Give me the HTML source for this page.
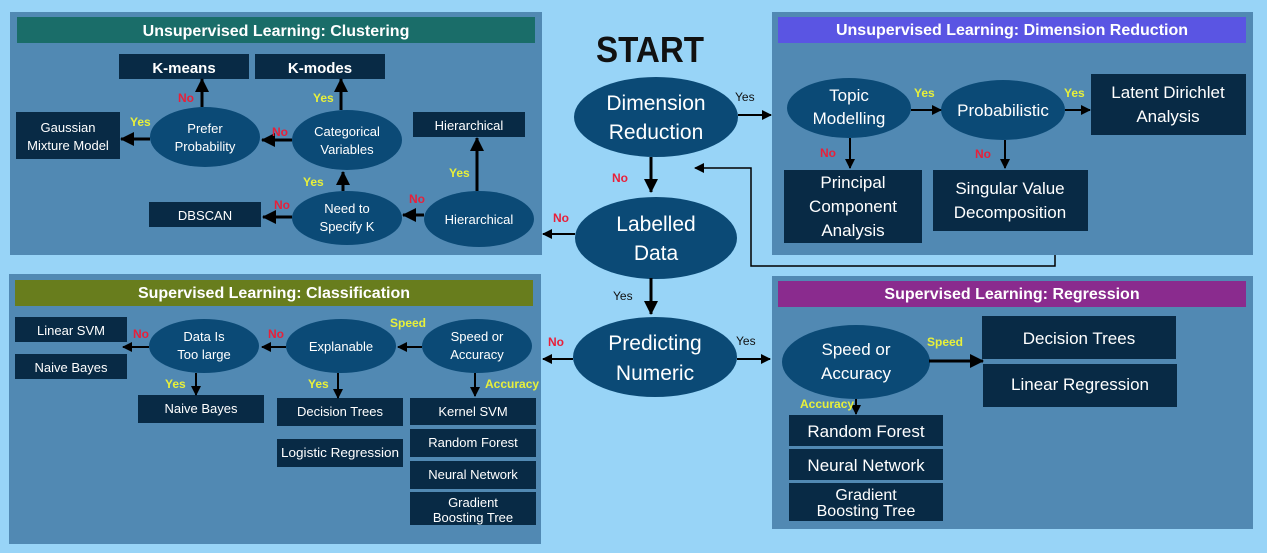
<!DOCTYPE html>
<html><head><meta charset="utf-8"><style>
html,body{margin:0;padding:0;background:#98d4f7;}
svg{display:block;}
text{font-family:"Liberation Sans",sans-serif;}
.w{fill:#fff;text-anchor:middle;}
.h{fill:#fff;text-anchor:middle;font-weight:bold;font-size:16px;}
.no{fill:#e8203a;font-size:12px;font-weight:bold;}
.ys{fill:#e8f03a;font-size:12px;font-weight:bold;}
.ky{fill:#111;font-size:12px;}
.e{fill:#0b4a76;}
.b{fill:#082a45;}
.p{fill:#5189b3;}
</style></head><body>
<svg width="1267" height="553" viewBox="0 0 1267 553" xmlns="http://www.w3.org/2000/svg">
<defs>
<marker id="a" markerUnits="userSpaceOnUse" markerWidth="14" markerHeight="14" refX="13" refY="7" orient="auto"><path d="M0,0 L14,7 L0,14 Z" fill="#000"/></marker>
<marker id="s" markerUnits="userSpaceOnUse" markerWidth="10" markerHeight="10" refX="9" refY="5" orient="auto"><path d="M0,0 L10,5 L0,10 Z" fill="#000"/></marker>
</defs>
<rect width="1267" height="553" fill="#98d4f7"/>

<!-- Clustering panel -->
<rect class="p" x="10" y="12" width="532" height="243"/>
<rect x="17" y="17" width="518" height="26" fill="#1a6d69"/>
<text class="h" x="276" y="36">Unsupervised Learning: Clustering</text>
<rect class="b" x="119" y="54" width="130" height="25"/><text class="w" x="184" y="73" font-size="15" font-weight="bold">K-means</text>
<rect class="b" x="255" y="54" width="130" height="25"/><text class="w" x="320" y="73" font-size="15" font-weight="bold">K-modes</text>
<rect class="b" x="16" y="112" width="104" height="47"/><text class="w" x="68" y="132" font-size="13">Gaussian</text><text class="w" x="68" y="150" font-size="13">Mixture Model</text>
<ellipse class="e" cx="205" cy="137" rx="55" ry="30"/><text class="w" x="205" y="133" font-size="13">Prefer</text><text class="w" x="205" y="151" font-size="13">Probability</text>
<ellipse class="e" cx="347" cy="140" rx="55" ry="30"/><text class="w" x="347" y="136" font-size="13">Categorical</text><text class="w" x="347" y="154" font-size="13">Variables</text>
<rect class="b" x="413" y="112" width="112" height="25"/><text class="w" x="469" y="130" font-size="13">Hierarchical</text>
<rect class="b" x="149" y="202" width="112" height="25"/><text class="w" x="205" y="220" font-size="13">DBSCAN</text>
<ellipse class="e" cx="347" cy="218" rx="55" ry="27"/><text class="w" x="347" y="213" font-size="13">Need to</text><text class="w" x="347" y="231" font-size="13">Specify K</text>
<ellipse class="e" cx="479" cy="219" rx="55" ry="28"/><text class="w" x="479" y="224" font-size="13">Hierarchical</text>
<g stroke="#000" stroke-width="3" fill="none">
<line x1="202" y1="107" x2="202" y2="79" marker-end="url(#a)"/>
<line x1="341" y1="110" x2="341" y2="79" marker-end="url(#a)"/>
<line x1="150" y1="139" x2="121" y2="139" marker-end="url(#a)"/>
<line x1="292" y1="140" x2="262" y2="140" marker-end="url(#a)"/>
<line x1="343" y1="191" x2="343" y2="172" marker-end="url(#a)"/>
<line x1="292" y1="217" x2="263" y2="217" marker-end="url(#a)"/>
<line x1="424" y1="215" x2="403" y2="215" marker-end="url(#a)"/>
<line x1="477" y1="191" x2="477" y2="138" marker-end="url(#a)"/>
</g>
<text class="no" x="178" y="102">No</text>
<text class="ys" x="313" y="102">Yes</text>
<text class="ys" x="130" y="126">Yes</text>
<text class="no" x="272" y="136">No</text>
<text class="ys" x="303" y="186">Yes</text>
<text class="no" x="274" y="209">No</text>
<text class="no" x="409" y="203">No</text>
<text class="ys" x="449" y="177">Yes</text>

<!-- Classification panel -->
<rect class="p" x="9" y="274" width="532" height="270"/>
<rect x="15" y="280" width="518" height="26" fill="#687d1d"/>
<text class="h" x="274" y="298">Supervised Learning: Classification</text>
<rect class="b" x="15" y="317" width="112" height="25"/><text class="w" x="71" y="335" font-size="13">Linear SVM</text>
<rect class="b" x="15" y="354" width="112" height="25"/><text class="w" x="71" y="372" font-size="13">Naive Bayes</text>
<ellipse class="e" cx="204" cy="346" rx="55" ry="27"/><text class="w" x="204" y="341" font-size="13">Data Is</text><text class="w" x="204" y="359" font-size="13">Too large</text>
<ellipse class="e" cx="341" cy="346" rx="55" ry="27"/><text class="w" x="341" y="351" font-size="13">Explanable</text>
<ellipse class="e" cx="477" cy="346" rx="55" ry="27"/><text class="w" x="477" y="341" font-size="13">Speed or</text><text class="w" x="477" y="359" font-size="13">Accuracy</text>
<rect class="b" x="138" y="395" width="126" height="28"/><text class="w" x="201" y="413" font-size="13">Naive Bayes</text>
<rect class="b" x="277" y="398" width="126" height="28"/><text class="w" x="340" y="416" font-size="13">Decision Trees</text>
<rect class="b" x="277" y="439" width="126" height="28"/><text class="w" x="340" y="457" font-size="13" textLength="118" lengthAdjust="spacingAndGlyphs">Logistic Regression</text>
<rect class="b" x="410" y="398" width="126" height="27"/><text class="w" x="473" y="416" font-size="13">Kernel SVM</text>
<rect class="b" x="410" y="429" width="126" height="28"/><text class="w" x="473" y="447" font-size="13">Random Forest</text>
<rect class="b" x="410" y="461" width="126" height="28"/><text class="w" x="473" y="479" font-size="13">Neural Network</text>
<rect class="b" x="410" y="492" width="126" height="33"/><text class="w" x="473" y="507" font-size="13">Gradient</text><text class="w" x="473" y="522" font-size="13">Boosting Tree</text>
<g stroke="#000" stroke-width="2" fill="none">
<line x1="149" y1="347" x2="123" y2="347" marker-end="url(#s)"/>
<line x1="286" y1="347" x2="262" y2="347" marker-end="url(#s)"/>
<line x1="422" y1="347" x2="398" y2="347" marker-end="url(#s)"/>
<line x1="196" y1="373" x2="196" y2="395" marker-end="url(#s)"/>
<line x1="338" y1="373" x2="338" y2="398" marker-end="url(#s)"/>
<line x1="475" y1="373" x2="475" y2="396" marker-end="url(#s)"/>
</g>
<text class="no" x="133" y="338">No</text>
<text class="no" x="268" y="338">No</text>
<text class="ys" x="390" y="327">Speed</text>
<text class="ys" x="165" y="388">Yes</text>
<text class="ys" x="308" y="388">Yes</text>
<text class="ys" x="485" y="388" font-size="10">Accuracy</text>

<!-- Center -->
<text x="650" y="62" text-anchor="middle" font-size="36" font-weight="bold" fill="#111" textLength="108" lengthAdjust="spacingAndGlyphs">START</text>
<ellipse class="e" cx="656" cy="117" rx="82" ry="40"/>
<text class="w" x="656" y="110" font-size="21">Dimension</text><text class="w" x="656" y="139" font-size="21">Reduction</text>
<ellipse class="e" cx="656" cy="238" rx="81" ry="41"/>
<text class="w" x="656" y="231" font-size="21">Labelled</text><text class="w" x="656" y="260" font-size="21">Data</text>
<ellipse class="e" cx="655" cy="357" rx="82" ry="40"/>
<text class="w" x="655" y="350" font-size="21">Predicting</text><text class="w" x="655" y="380" font-size="21">Numeric</text>
<g stroke="#000" stroke-width="3" fill="none">
<line x1="651" y1="157" x2="651" y2="192" marker-end="url(#a)"/>
<line x1="651" y1="278" x2="651" y2="314" marker-end="url(#a)"/>
</g>
<g stroke="#000" stroke-width="2" fill="none">
<line x1="738" y1="115" x2="771" y2="115" marker-end="url(#s)"/>
<line x1="575" y1="234" x2="543" y2="234" marker-end="url(#s)"/>
<line x1="573" y1="359" x2="543" y2="359" marker-end="url(#s)"/>
<line x1="737" y1="359" x2="770" y2="359" marker-end="url(#s)"/>
</g>
<polyline points="1055,254 1055,266 751,266 751,168 695,168" stroke="#000" stroke-width="1.5" fill="none" marker-end="url(#s)"/>
<text class="ky" x="735" y="101">Yes</text>
<text class="no" x="612" y="182">No</text>
<text class="no" x="553" y="222">No</text>
<text class="ky" x="613" y="300">Yes</text>
<text class="no" x="548" y="346">No</text>
<text class="ky" x="736" y="345">Yes</text>

<!-- Dimension Reduction panel -->
<rect class="p" x="772" y="12" width="481" height="243"/>
<rect x="778" y="17" width="468" height="26" fill="#5a55e3"/>
<text class="h" x="1012" y="35">Unsupervised Learning: Dimension Reduction</text>
<ellipse class="e" cx="849" cy="108" rx="62" ry="30"/><text class="w" x="849" y="101" font-size="17">Topic</text><text class="w" x="849" y="124" font-size="17">Modelling</text>
<ellipse class="e" cx="1003" cy="110" rx="62" ry="30"/><text class="w" x="1003" y="116" font-size="17">Probabilistic</text>
<rect class="b" x="1091" y="74" width="155" height="61"/><text class="w" x="1168" y="98" font-size="17">Latent Dirichlet</text><text class="w" x="1168" y="122" font-size="17">Analysis</text>
<rect class="b" x="784" y="170" width="138" height="73"/><text class="w" x="853" y="188" font-size="17">Principal</text><text class="w" x="853" y="212" font-size="17">Component</text><text class="w" x="853" y="236" font-size="17">Analysis</text>
<rect class="b" x="933" y="170" width="155" height="61"/><text class="w" x="1010" y="194" font-size="17">Singular Value</text><text class="w" x="1010" y="218" font-size="17">Decomposition</text>
<g stroke="#000" stroke-width="2" fill="none">
<line x1="911" y1="110" x2="941" y2="110" marker-end="url(#s)"/>
<line x1="1065" y1="110" x2="1090" y2="110" marker-end="url(#s)"/>
<line x1="850" y1="138" x2="850" y2="168" marker-end="url(#s)"/>
<line x1="1005" y1="140" x2="1005" y2="168" marker-end="url(#s)"/>
</g>
<text class="ys" x="914" y="97">Yes</text>
<text class="ys" x="1064" y="97">Yes</text>
<text class="no" x="820" y="157">No</text>
<text class="no" x="975" y="158">No</text>

<!-- Regression panel -->
<rect class="p" x="772" y="276" width="481" height="253"/>
<rect x="778" y="281" width="468" height="26" fill="#8a2b8e"/>
<text class="h" x="1012" y="299">Supervised Learning: Regression</text>
<ellipse class="e" cx="856" cy="362" rx="74" ry="37"/><text class="w" x="856" y="355" font-size="17">Speed or</text><text class="w" x="856" y="379" font-size="17">Accuracy</text>
<rect class="b" x="982" y="316" width="194" height="43"/><text class="w" x="1079" y="344" font-size="17">Decision Trees</text>
<rect class="b" x="983" y="364" width="194" height="43"/><text class="w" x="1080" y="390" font-size="17">Linear Regression</text>
<rect class="b" x="789" y="415" width="154" height="31"/><text class="w" x="866" y="437" font-size="17">Random Forest</text>
<rect class="b" x="789" y="449" width="154" height="31"/><text class="w" x="866" y="471" font-size="17">Neural Network</text>
<rect class="b" x="789" y="483" width="154" height="38"/><text class="w" x="866" y="500" font-size="16">Gradient</text><text class="w" x="866" y="516" font-size="16">Boosting Tree</text>
<line x1="929" y1="361" x2="983" y2="361" stroke="#000" stroke-width="3" marker-end="url(#a)"/>
<line x1="856" y1="399" x2="856" y2="414" stroke="#000" stroke-width="2" marker-end="url(#s)"/>
<text class="ys" x="927" y="346">Speed</text>
<text class="ys" x="800" y="408" font-size="10">Accuracy</text>
</svg>
</body></html>
